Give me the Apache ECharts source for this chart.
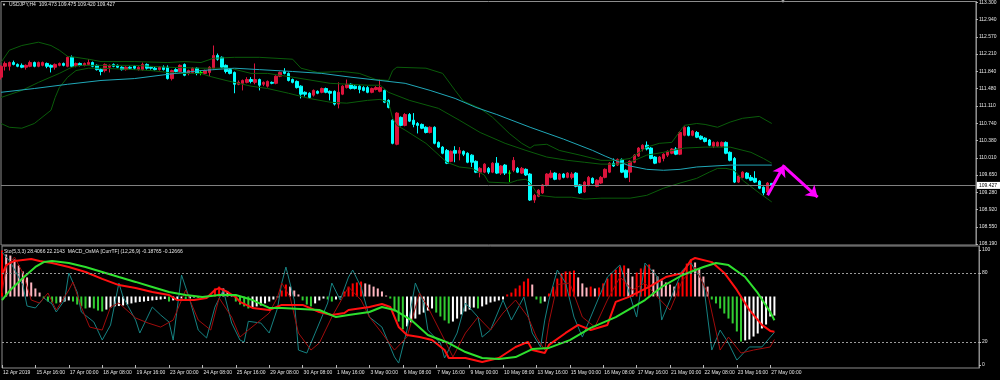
<!DOCTYPE html>
<html><head><meta charset="utf-8">
<script src="https://cdn.jsdelivr.net/npm/echarts@6/dist/echarts.min.js"></script>
<style>html,body{margin:0;padding:0;background:#000;}#c{width:1000px;height:380px;}</style>
</head><body><div id="c"></div>
<script>
// ---------- data ----------
const barCount = 235; // category slots across the window (186 bars + right shift)
const timeLabels = ["12 Apr 2019","15 Apr 16:00","17 Apr 00:00","18 Apr 08:00","19 Apr 16:00","23 Apr 00:00","24 Apr 08:00","25 Apr 16:00","29 Apr 08:00","30 Apr 08:00","1 May 16:00","3 May 00:00","6 May 08:00","7 May 16:00","9 May 00:00","10 May 08:00","13 May 16:00","15 May 00:00","16 May 08:00","17 May 16:00","21 May 00:00","22 May 08:00","23 May 16:00","27 May 00:00"];
const priceTicks = [113.300,112.940,112.570,112.210,111.840,111.480,111.110,110.740,110.380,110.010,109.650,109.280,108.920,108.550,108.190];
const stochTicks = [0,20,80,100];
const stochLevels = [80,20];
const lastPrice = 109.427;
const headerText = "USDJPY,H4  109.473 109.475 109.420 109.427";
const subText = "Sto(5,3,3) 28.4066 22.2143  MACD_OsMA [CurrTF] (12,26,9) -0.18765 -0.12666";

const open = [111.72,111.95,111.95,112.03,111.99,111.97,111.93,111.95,112.03,111.95,
111.97,112.01,111.97,111.93,111.97,112.01,111.95,112.14,111.97,112.01,
111.97,111.99,112.03,111.97,111.88,111.86,111.93,111.99,111.97,111.93,
111.88,111.93,111.95,111.88,111.88,111.99,111.93,111.91,111.88,111.93,
111.93,111.69,111.88,111.84,111.99,111.80,111.82,111.91,111.82,111.80,
111.82,111.91,112.18,112.14,111.97,111.88,111.82,111.57,111.59,111.61,
111.67,111.61,111.67,111.57,111.53,111.61,111.59,111.74,111.84,111.80,
111.67,111.63,111.53,111.40,111.38,111.34,111.42,111.40,111.48,111.42,
111.42,111.15,111.36,111.50,111.57,111.53,111.53,111.50,111.50,111.40,
111.46,111.42,111.44,111.23,110.81,110.30,110.87,110.70,110.93,110.81,
110.74,110.72,110.66,110.55,110.66,110.34,110.24,110.17,109.94,110.17,
110.11,110.15,110.11,110.07,109.94,109.71,109.71,109.79,109.71,109.90,
109.69,109.86,109.69,109.75,109.79,109.69,109.77,109.67,109.12,109.20,
109.27,109.44,109.60,109.69,109.56,109.67,109.60,109.60,109.69,109.44,
109.29,109.44,109.58,109.41,109.48,109.60,109.71,109.90,109.86,109.98,
109.75,109.71,109.92,110.05,110.20,110.28,110.22,110.03,109.92,110.00,
110.07,110.11,110.20,110.09,110.49,110.66,110.49,110.55,110.47,110.43,
110.39,110.26,110.26,110.26,110.34,110.13,110.00,109.50,109.60,109.69,
109.60,109.58,109.52,109.39,109.29,109.473];
const close = [111.95,112.01,112.03,111.99,111.95,111.93,111.97,112.03,111.95,112.03,
112.03,111.95,111.93,111.99,112.01,111.97,112.14,111.95,112.01,111.97,
112.01,112.03,111.95,111.88,111.84,111.99,111.97,111.95,111.93,111.88,
111.93,111.91,111.91,111.93,111.99,111.91,111.91,111.88,111.93,111.88,
111.69,111.86,111.84,111.97,111.76,111.86,111.91,111.80,111.82,111.86,
111.93,112.18,112.10,111.93,111.84,111.80,111.57,111.61,111.65,111.67,
111.63,111.67,111.55,111.61,111.63,111.59,111.74,111.82,111.80,111.65,
111.61,111.50,111.36,111.36,111.29,111.44,111.38,111.48,111.40,111.38,
111.15,111.40,111.53,111.57,111.48,111.48,111.46,111.44,111.40,111.48,
111.50,111.50,111.19,111.08,110.32,110.96,110.70,110.93,110.79,110.72,
110.70,110.64,110.55,110.66,110.32,110.24,110.11,109.90,110.15,110.11,
110.17,110.09,109.92,109.92,109.71,109.79,109.88,109.71,109.90,109.69,
109.84,109.69,109.69,109.96,109.71,109.79,109.65,109.12,109.22,109.33,
109.44,109.67,109.69,109.56,109.67,109.60,109.69,109.67,109.41,109.27,
109.50,109.60,109.48,109.54,109.60,109.77,109.90,109.84,109.98,109.71,
109.60,109.94,110.07,110.22,110.28,110.20,110.00,109.90,110.03,110.09,
110.15,110.20,110.09,110.55,110.66,110.49,110.58,110.45,110.41,110.36,
110.28,110.34,110.34,110.34,110.11,109.96,109.50,109.63,109.71,109.58,
109.54,109.50,109.37,109.27,109.48,109.427];
const low = [111.67,111.86,111.86,111.97,111.93,111.91,111.88,111.93,111.93,111.93,
111.95,111.91,111.82,111.88,111.95,111.95,111.93,111.93,111.93,111.95,
111.95,111.97,111.93,111.86,111.76,111.82,111.82,111.93,111.91,111.86,
111.86,111.88,111.88,111.86,111.86,111.88,111.88,111.86,111.86,111.86,
111.67,111.65,111.82,111.82,111.74,111.76,111.80,111.76,111.76,111.78,
111.74,111.88,112.07,111.91,111.80,111.78,111.38,111.55,111.44,111.59,
111.59,111.57,111.44,111.53,111.50,111.57,111.57,111.72,111.78,111.63,
111.59,111.48,111.27,111.31,111.27,111.31,111.36,111.38,111.38,111.23,
111.12,111.06,111.34,111.48,111.46,111.46,111.38,111.42,111.38,111.38,
111.44,111.40,111.17,111.06,110.30,110.28,110.68,110.68,110.77,110.66,
110.53,110.62,110.53,110.53,110.30,110.22,110.09,109.88,109.92,109.92,
109.96,110.05,109.90,109.82,109.69,109.60,109.69,109.67,109.69,109.67,
109.65,109.65,109.50,109.71,109.69,109.67,109.63,109.10,109.06,109.18,
109.25,109.41,109.58,109.54,109.54,109.58,109.58,109.56,109.39,109.25,
109.27,109.41,109.46,109.39,109.46,109.58,109.69,109.82,109.84,109.69,
109.58,109.50,109.90,110.03,110.15,110.17,109.98,109.88,109.90,109.94,
110.03,110.09,110.07,110.07,110.47,110.47,110.47,110.43,110.39,110.34,
110.26,110.22,110.24,110.24,110.09,109.94,109.48,109.48,109.58,109.56,
109.52,109.48,109.35,109.22,109.27,109.42];
const high = [111.97,112.05,112.05,112.07,112.01,112.01,111.99,112.07,112.05,112.05,
112.05,112.03,111.99,112.01,112.03,112.03,112.16,112.18,112.03,112.03,
112.03,112.10,112.05,111.99,111.91,112.01,111.99,112.01,111.99,111.95,
111.95,111.95,111.97,111.95,112.03,112.01,111.95,111.95,111.95,111.97,
111.97,111.88,111.91,111.99,112.01,111.88,111.93,111.93,111.86,111.88,
111.95,112.39,112.22,112.16,111.99,111.91,111.84,111.65,111.67,111.72,
111.72,112.01,111.69,111.63,111.65,111.63,111.76,111.84,111.91,111.82,
111.69,111.65,111.55,111.42,111.40,111.46,111.44,111.50,111.50,111.44,
111.44,111.61,111.55,111.67,111.59,111.55,111.55,111.53,111.53,111.50,
111.53,111.67,111.46,111.25,110.83,110.98,110.89,110.96,110.96,110.96,
110.77,110.74,110.68,110.68,110.68,110.36,110.26,110.20,110.17,110.26,
110.24,110.17,110.13,110.09,109.96,109.82,109.90,109.82,109.92,110.03,
109.86,109.88,109.75,110.03,109.82,109.82,109.79,109.69,109.25,109.35,
109.46,109.69,109.75,109.71,109.69,109.69,109.71,109.71,109.71,109.46,
109.52,109.63,109.60,109.56,109.63,109.79,109.92,110.00,110.00,110.00,
109.77,109.96,110.09,110.24,110.30,110.36,110.24,110.05,110.05,110.11,
110.17,110.22,110.24,110.58,110.68,110.68,110.60,110.58,110.49,110.45,
110.41,110.36,110.36,110.36,110.36,110.15,110.03,109.65,109.73,109.71,
109.65,109.73,109.54,109.41,109.50,109.475];

// moving average (read at bar index, price)
const maLine = [[0,111.40],[8,111.48],[16,111.57],[24,111.65],[32,111.69],[40,111.78],[48,111.86],[56,111.91],[62,111.88],[70,111.84],[77,111.80],[84,111.72],[91,111.65],[97,111.59],[103,111.44],[109,111.27],[114,111.08],[119,110.93],[127,110.66],[135,110.41],[142,110.17],[145,110.05],[148,109.94],[151,109.84],[155,109.77],[159,109.75],[163,109.77],[167,109.82],[175,109.86],[185,109.86]];
const bbUpper = [[0,112.03],[2,112.29],[5,112.39],[9,112.46],[12,112.39],[14,112.29],[16,112.16],[18,112.14],[21,112.10],[24,112.05],[32,112.05],[40,112.03],[44,112.05],[48,112.03],[51,112.12],[56,112.14],[62,112.14],[70,112.10],[72,111.91],[76,111.82],[82,111.84],[86,111.80],[90,111.67],[93,111.65],[94,111.86],[95,111.93],[102,111.91],[106,111.80],[109,111.44],[111,111.21],[115,111.06],[118,110.87],[122,110.53],[125,110.32],[127,110.22],[128,110.28],[131,110.30],[134,110.17],[139,110.07],[144,109.96],[148,109.96],[151,110.00],[155,110.24],[158,110.32],[161,110.34],[164,110.70],[167,110.74],[169,110.72],[172,110.66],[175,110.77],[178,110.85],[182,110.89],[185,110.74]];
const bbMiddle = [[0,111.29],[5,111.44],[9,111.61],[14,111.80],[17,111.93],[19,111.97],[24,111.97],[32,111.97],[40,111.93],[48,111.91],[55,111.91],[60,111.80],[64,111.80],[70,111.72],[79,111.59],[88,111.55],[91,111.55],[93,111.40],[98,111.23],[105,111.06],[110,110.81],[115,110.55],[121,110.32],[126,110.17],[131,110.03],[136,109.96],[140,109.92],[144,109.88],[148,109.88],[151,109.92],[155,110.07],[159,110.13],[164,110.22],[169,110.24],[175,110.24],[180,110.13],[183,110.00],[185,109.90]];
const bbLower = [[0,110.74],[2,110.66],[5,110.64],[8,110.74],[9,110.81],[12,111.02],[13,111.29],[14,111.50],[16,111.72],[18,111.86],[21,111.91],[24,111.91],[32,111.88],[36,111.86],[40,111.82],[43,111.80],[48,111.80],[50,111.74],[54,111.65],[60,111.53],[64,111.48],[69,111.38],[74,111.27],[79,111.19],[83,111.17],[88,111.23],[91,111.25],[93,111.19],[94,110.85],[95,110.70],[97,110.60],[102,110.32],[107,109.92],[110,109.82],[113,109.79],[116,109.65],[117,109.50],[122,109.48],[124,109.54],[126,109.56],[127,109.48],[129,109.22],[133,109.18],[137,109.18],[140,109.14],[144,109.16],[151,109.16],[155,109.22],[159,109.37],[163,109.48],[167,109.58],[170,109.71],[172,109.79],[174,109.79],[176,109.75],[178,109.54],[182,109.27],[185,109.08]];

// OsMA histogram, one value per bar
const osma = [0.246,0.225,0.219,0.198,0.166,0.134,0.102,0.075,0.043,0.021,
-0.011,-0.027,-0.032,-0.037,-0.032,-0.027,-0.021,-0.027,-0.043,-0.053,
-0.064,-0.059,-0.064,-0.075,-0.080,-0.070,-0.059,-0.053,-0.051,-0.048,
-0.043,-0.037,-0.032,-0.029,-0.027,-0.024,-0.021,-0.019,-0.016,-0.013,
-0.027,-0.021,-0.016,-0.011,-0.016,-0.011,-0.005,-0.008,-0.005,-0.003,
0.011,0.043,0.053,0.043,0.027,0.011,-0.027,-0.043,-0.053,-0.064,
-0.059,-0.053,-0.048,-0.037,-0.027,-0.016,-0.005,0.032,0.064,0.053,
0.032,0.011,-0.021,-0.043,-0.053,-0.037,-0.021,-0.011,-0.016,-0.027,
-0.016,-0.005,0.027,0.053,0.070,0.075,0.080,0.070,0.064,0.053,
0.043,0.027,0.005,-0.011,-0.080,-0.134,-0.176,-0.160,-0.139,-0.118,
-0.096,-0.086,-0.075,-0.064,-0.086,-0.107,-0.128,-0.144,-0.134,-0.118,
-0.096,-0.080,-0.070,-0.059,-0.064,-0.053,-0.043,-0.032,-0.027,-0.021,
-0.016,0.011,0.021,0.043,0.059,0.080,0.096,0.064,-0.016,-0.037,
-0.027,0.016,0.053,0.096,0.123,0.134,0.134,0.139,0.102,0.070,
0.048,0.053,0.043,0.048,0.070,0.096,0.123,0.144,0.160,0.166,
0.150,0.107,0.128,0.150,0.166,0.171,0.144,0.107,0.086,0.075,
0.064,0.053,0.075,0.134,0.176,0.198,0.182,0.150,0.107,0.053,
-0.016,-0.037,-0.064,-0.091,-0.118,-0.144,-0.187,-0.241,-0.235,-0.230,
-0.214,-0.198,-0.171,-0.150,-0.107,-0.102];
const macdMain = [[0,0.115],[1,0.168],[3,0.190],[7,0.201],[9,0.190],[12,0.179],[16,0.158],[20,0.131],[24,0.094],[28,0.061],[32,0.045],[36,0.024],[40,0.008],[42,-0.019],[46,-0.019],[49,-0.008],[51,0.035],[52,0.045],[54,0.024],[56,-0.003],[57,-0.029],[60,-0.061],[64,-0.072],[67,-0.045],[72,-0.045],[76,-0.083],[79,-0.099],[82,-0.088],[83,-0.072],[88,-0.056],[91,-0.040],[93,-0.056],[95,-0.163],[97,-0.206],[100,-0.217],[103,-0.233],[106,-0.286],[107,-0.329],[111,-0.329],[115,-0.350],[119,-0.329],[123,-0.270],[126,-0.243],[127,-0.286],[130,-0.302],[131,-0.259],[135,-0.195],[138,-0.152],[141,-0.179],[145,-0.152],[147,-0.029],[150,-0.003],[155,0.051],[159,0.104],[163,0.126],[165,0.195],[166,0.206],[170,0.184],[173,0.126],[176,0.035],[179,-0.072],[182,-0.152],[184,-0.184],[185,-0.188]];
const macdSignal = [[0,-0.019],[2,0.035],[5,0.099],[8,0.158],[10,0.184],[12,0.190],[16,0.179],[20,0.158],[24,0.131],[28,0.104],[32,0.078],[36,0.051],[40,0.024],[44,0.008],[48,-0.003],[52,0.008],[56,0.008],[60,-0.019],[64,-0.061],[67,-0.061],[76,-0.072],[80,-0.110],[83,-0.099],[88,-0.083],[91,-0.056],[94,-0.072],[98,-0.126],[102,-0.206],[107,-0.249],[111,-0.297],[115,-0.329],[119,-0.334],[123,-0.324],[127,-0.281],[131,-0.275],[136,-0.233],[141,-0.168],[147,-0.110],[154,-0.019],[158,0.051],[163,0.115],[168,0.158],[171,0.179],[174,0.168],[178,0.104],[181,0.019],[184,-0.083],[185,-0.127]];
const stochMain = [[0,98.3],[2,89.6],[5,69.6],[6,51.3],[8,49.6],[10,58.3],[12,53.0],[13,46.1],[15,56.5],[16,80.0],[18,63.5],[19,46.1],[22,37.4],[24,21.7],[26,34.8],[28,71.3],[29,59.1],[32,39.1],[33,27.8],[36,50.4],[38,43.5],[40,37.4],[41,21.7],[43,78.3],[45,56.5],[47,30.4],[49,23.5],[51,50.4],[53,65.2],[55,36.5],[57,21.7],[58,20.0],[59,38.0],[62,36.5],[64,27.8],[66,49.6],[67,71.3],[68,85.2],[70,56.5],[71,13.0],[73,10.4],[75,27.8],[78,53.9],[79,71.3],[81,56.5],[83,76.5],[84,82.6],[86,67.8],[88,41.7],[91,33.0],[94,7.0],[95,1.7],[97,30.4],[99,71.3],[101,53.9],[102,30.4],[105,19.1],[106,6.1],[109,27.8],[111,53.9],[114,41.7],[115,24.3],[117,30.4],[120,56.5],[122,39.1],[125,59.1],[127,27.8],[129,15.7],[130,39.1],[131,56.5],[133,82.6],[135,71.3],[137,41.7],[139,24.3],[141,41.7],[145,76.5],[148,87.0],[150,65.2],[152,41.7],[154,88.7],[157,76.5],[158,39.1],[160,56.5],[163,82.6],[165,88.7],[168,71.3],[170,13.0],[172,30.4],[174,19.1],[176,4.3],[179,15.7],[182,15.7],[185,28.4]];
const stochSignal = [[0,62.6],[1,85.2],[3,93.9],[5,80.0],[7,56.5],[9,53.9],[11,62.6],[13,47.8],[16,65.2],[17,72.2],[19,50.4],[21,33.0],[24,30.4],[26,50.4],[28,53.9],[32,40.9],[35,36.5],[38,33.0],[41,39.1],[44,65.2],[47,39.1],[50,30.4],[52,58.3],[55,41.7],[57,24.3],[59,30.4],[64,45.2],[66,59.1],[67,71.3],[69,59.1],[71,27.8],[74,13.0],[76,19.1],[79,41.7],[83,67.8],[86,56.5],[88,41.7],[91,27.8],[94,13.0],[97,24.3],[100,62.6],[102,50.4],[106,21.7],[108,7.0],[111,27.8],[114,41.7],[117,30.4],[120,45.2],[123,56.5],[126,41.7],[128,24.3],[130,13.0],[131,37.0],[133,70.0],[136,71.3],[139,41.7],[142,33.0],[145,56.5],[148,76.5],[151,65.2],[154,71.3],[157,59.1],[160,47.8],[163,73.9],[166,85.2],[169,62.6],[172,13.0],[174,24.3],[177,10.4],[180,13.0],[184,15.7],[185,22.2]];

// hand-drawn arrows (bar index, price)
const arrowUp = [[184,109.22],[188,109.86]];
const arrowDown = [[188,109.82],[196,109.18]];

// ---------- chart ----------
const FONT = 'Liberation Sans';
const TXT = '#e4e4e4';
const FRAME = '#8c8c8c';
const cats = Array.from({length: barCount}, (_, i) => String(i));
const isTimeTick = (i) => i % 8 === 0 && i / 8 < timeLabels.length;
const candleData = open.map((o, i) => [o, close[i], low[i], high[i]]);
const histData = osma.map((v, i) => {
  const prev = i > 0 ? osma[i - 1] : null;
  let c;
  if (v >= 0) c = (prev === null || v >= prev) ? '#ff0000' : '#ffb6c1';
  else c = (prev === null || v <= prev) ? '#32cd32' : '#ffffff';
  return {value: v, itemStyle: {color: c}};
});

const chart = echarts.init(document.getElementById('c'), null, {renderer: 'canvas', width: 1000, height: 380});
chart.setOption({
  animation: false,
  backgroundColor: '#000000',
  grid: [
    {left: 1, right: 21, top: 1, height: 244, show: true, borderColor: FRAME, borderWidth: 1},
    {left: 1, right: 21, top: 246, height: 122, show: true, borderColor: FRAME, borderWidth: 1}
  ],
  xAxis: [
    {type: 'category', gridIndex: 0, data: cats, boundaryGap: false, show: false},
    {type: 'category', gridIndex: 1, data: cats, boundaryGap: false,
      axisLine: {show: false},
      axisTick: {show: true, interval: (i) => isTimeTick(i), length: 3, lineStyle: {color: '#bbbbbb'}},
      axisLabel: {show: true, interval: (i) => isTimeTick(i), formatter: (v) => timeLabels[Number(v) / 8] || '',
        align: 'left', margin: 2, fontSize: 5, color: TXT, fontFamily: FONT, padding: [0, 0, 0, 1]},
      splitLine: {show: false}}
  ],
  yAxis: [
    {type: 'value', gridIndex: 0, position: 'right', min: 108.169, max: 113.321,
      axisLine: {show: true, lineStyle: {color: FRAME}},
      axisTick: {show: true, length: 2, customValues: priceTicks, lineStyle: {color: '#bbbbbb'}},
      axisLabel: {customValues: priceTicks, formatter: (v) => v.toFixed(3), fontSize: 5, color: TXT, margin: 3, fontFamily: FONT},
      splitLine: {show: false}},
    {type: 'value', gridIndex: 1, position: 'right', min: -2.6, max: 103.5,
      axisLine: {show: true, lineStyle: {color: FRAME}},
      axisTick: {show: true, length: 2, customValues: stochTicks, lineStyle: {color: '#bbbbbb'}},
      axisLabel: {customValues: stochTicks, fontSize: 5, color: TXT, margin: 3, fontFamily: FONT},
      splitLine: {show: false}},
    {type: 'value', gridIndex: 1, show: false, min: -0.3824, max: 0.2701, splitLine: {show: false}}
  ],
  graphic: [
    {type: 'text', left: 2, top: 3, style: {text: '▼', fontSize: 4, fill: TXT}},
    {type: 'text', left: 9, top: 2, style: {text: headerText, fontSize: 5, fill: TXT, fontFamily: FONT}},
    {type: 'text', left: 4, top: 249, style: {text: subText, fontSize: 5, fill: TXT, fontFamily: FONT}},
    {type: 'text', left: 780, top: -2, style: {text: '▼', fontSize: 6, fill: '#9a9a9a'}}
  ],
  series: [
    {type: 'candlestick', xAxisIndex: 0, yAxisIndex: 0, data: candleData, barWidth: 3, z: 2,
      itemStyle: {color: '#DC143C', color0: '#00FFFF', borderColor: '#DC143C', borderColor0: '#00FFFF', borderColorDoji: '#00FF00', borderWidth: 1},
      markLine: {silent: true, symbol: 'none', symbolSize: 11, animation: false,
        data: [
          {yAxis: lastPrice, lineStyle: {color: '#808080', width: 1, type: 'solid'},
            label: {show: true, position: 'end', distance: 1, formatter: lastPrice.toFixed(3), backgroundColor: '#ffffff', color: '#000000', fontSize: 5, fontFamily: FONT, padding: [1, 3, 1, 2]}},
          [{coord: arrowUp[0], symbol: 'none', lineStyle: {color: '#ff00ff', width: 3, type: 'solid'}, label: {show: false}},
           {coord: arrowUp[1], symbol: 'arrow'}],
          [{coord: arrowDown[0], symbol: 'none', lineStyle: {color: '#ff00ff', width: 3, type: 'solid'}, label: {show: false}},
           {coord: arrowDown[1], symbol: 'arrow'}]
        ]}},
    {type: 'line', xAxisIndex: 0, yAxisIndex: 0, data: bbUpper, showSymbol: false, z: 3, lineStyle: {color: '#0a5c0a', width: 1}},
    {type: 'line', xAxisIndex: 0, yAxisIndex: 0, data: bbMiddle, showSymbol: false, z: 3, lineStyle: {color: '#0a5c0a', width: 1}},
    {type: 'line', xAxisIndex: 0, yAxisIndex: 0, data: bbLower, showSymbol: false, z: 3, lineStyle: {color: '#0a5c0a', width: 1}},
    {type: 'line', xAxisIndex: 0, yAxisIndex: 0, data: maLine, showSymbol: false, z: 3, lineStyle: {color: '#20a8b8', width: 1}},
    {type: 'bar', xAxisIndex: 1, yAxisIndex: 2, data: histData, barWidth: 2, z: 2},
    {type: 'line', xAxisIndex: 1, yAxisIndex: 1, data: stochMain, showSymbol: false, z: 3, lineStyle: {color: '#168282', width: 1},
      markLine: {silent: true, symbol: 'none', animation: false, label: {show: false},
        lineStyle: {color: '#9a9a9a', width: 1, type: [2, 2]},
        data: stochLevels.map(v => ({yAxis: v}))}},
    {type: 'line', xAxisIndex: 1, yAxisIndex: 1, data: stochSignal, showSymbol: false, z: 3, lineStyle: {color: '#a00c0c', width: 1}},
    {type: 'line', xAxisIndex: 1, yAxisIndex: 2, data: macdMain, showSymbol: false, z: 4, lineStyle: {color: '#ff1010', width: 2}},
    {type: 'line', xAxisIndex: 1, yAxisIndex: 2, data: macdSignal, showSymbol: false, z: 4, lineStyle: {color: '#2ee02e', width: 2}}
  ]
});
</script>
</body></html>
